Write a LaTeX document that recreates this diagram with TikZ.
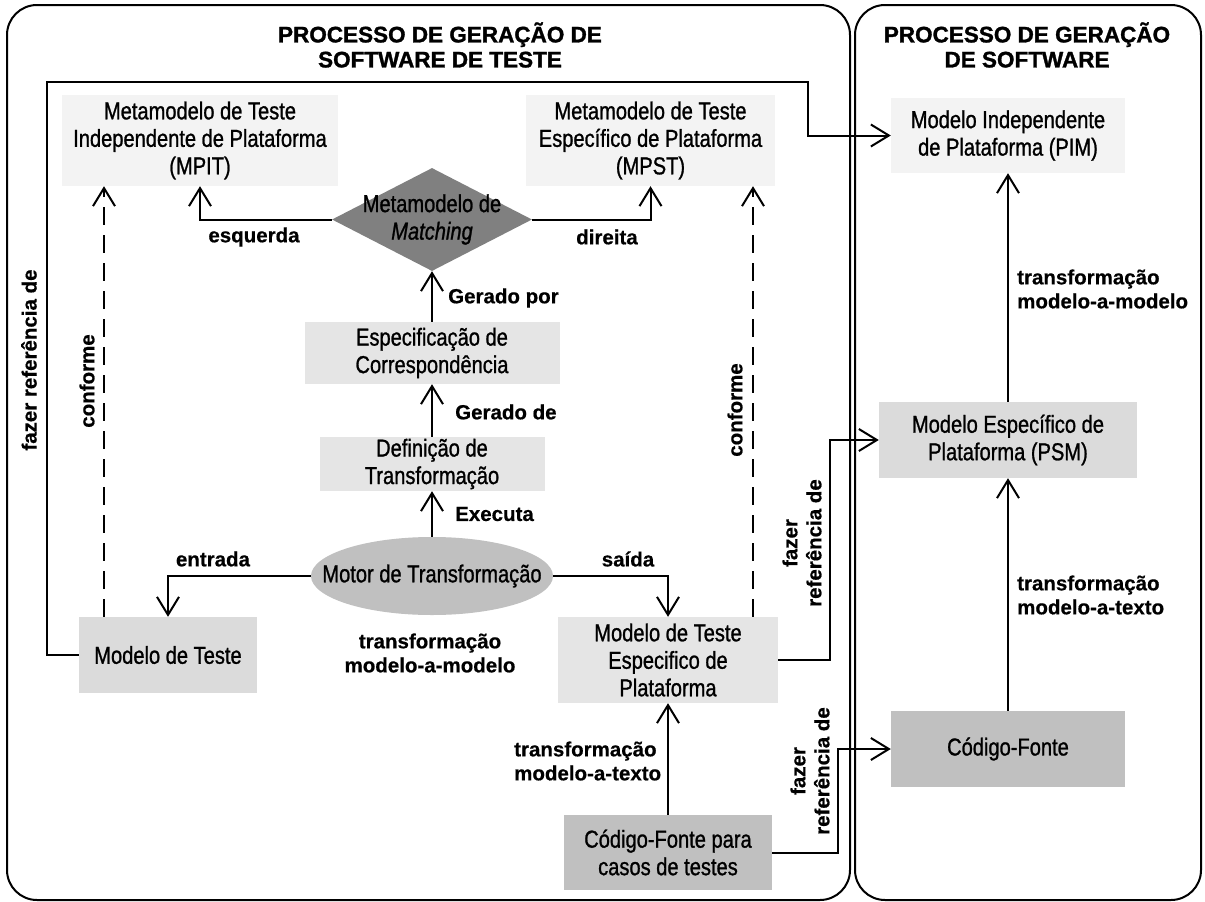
\documentclass[tikz,border=0pt]{standalone}
\usepackage{fontspec}
\setmainfont{Liberation Sans}[BoldFeatures={FakeBold=0.5}]
\newfontfamily\nfont{Liberation Sans}[FakeStretch=0.82, FakeBold=1.0]
\newfontfamily\tfont{Liberation Sans}[UprightFont={* Bold}, FakeBold=1.3]
\usetikzlibrary{arrows.meta,shapes.geometric}
\definecolor{pale}{RGB}{243,243,243}
\definecolor{lgray}{RGB}{229,229,229}
\definecolor{kgray}{RGB}{219,219,219}
\definecolor{mgray}{RGB}{192,192,192}
\definecolor{dgray}{RGB}{128,128,128}
\begin{document}
\begin{tikzpicture}[x=1pt,y=-1pt,
  ntext/.style={font=\nfont\fontsize{24.5}{27.5}\selectfont, align=center, inner sep=0pt},
  box/.style={ntext, rectangle, draw=none},
  lab/.style={font=\bfseries\fontsize{20.5}{24}\selectfont, inner sep=0pt},
  arr/.style={line width=2pt, -{Straight Barb[length=18pt,width=22pt,line width=2pt]}},
  frame/.style={line width=2pt, rounded corners=30pt},
  ttl/.style={font=\tfont\fontsize{22.5}{25}\selectfont, align=center, inner sep=0pt}]
\useasboundingbox (0,0) rectangle (1205,902);
\fill[white] (0,0) rectangle (1205,902);
% frames
\draw[frame] (7,5) rectangle (850,900);
\draw[frame] (855,5) rectangle (1201,900);
\node[ttl] (t1) at (440,45) {PROCESSO DE GERAÇÃO DE\\SOFTWARE DE TESTE};
\node[ttl] (t2) at (1027,45) {PROCESSO DE GERAÇÃO\\DE SOFTWARE};
% boxes
\node[box, fill=pale, minimum width=276pt, minimum height=91pt] (mpit) at (200,140.5) {Metamodelo de Teste\\Independente de Plataforma\\(MPIT)};
\node[box, fill=pale, minimum width=249pt, minimum height=91pt] (mpst) at (650.5,140.5) {Metamodelo de Teste\\Específico de Plataforma\\(MPST)};
\node[box, fill=pale, minimum width=234pt, minimum height=75pt] (pim) at (1008,135.5) {Modelo Independente\\de Plataforma (PIM)};
\node[diamond, fill=dgray, minimum width=200pt, minimum height=103pt, ntext] (match) at (432,219.5) {\makebox[0pt]{Metamodelo de}\\\makebox[0pt]{\itshape Matching}};
\node[box, fill=lgray, minimum width=255pt, minimum height=62pt] (espec) at (432,353) {Especificação de\\Correspondência};
\node[box, fill=lgray, minimum width=225pt, minimum height=54pt] (defin) at (432,464) {Definição de\\Transformação};
\node[ellipse, fill=mgray, minimum width=242pt, minimum height=78pt, ntext] (motor) at (432,576) {\makebox[0pt]{Motor de Transformação}};
\node[box, fill=kgray, minimum width=178pt, minimum height=76pt] (mteste) at (168,655) {Modelo de Teste};
\node[box, fill=lgray, minimum width=220pt, minimum height=86pt] (mtep) at (668,660) {Modelo de Teste\\Especifico de\\Plataforma};
\node[box, fill=mgray, minimum width=208pt, minimum height=75pt] (cfpara) at (668,852.5) {Código-Fonte para\\casos de testes};
\node[box, fill=kgray, minimum width=258pt, minimum height=76pt] (psm) at (1008,440) {Modelo Específico de\\Plataforma (PSM)};
\node[box, fill=mgray, minimum width=234pt, minimum height=76pt] (cf) at (1008,749) {Código-Fonte};
% helper coordinates
\coordinate (loopL) at (47,82);
\coordinate (loopR) at (808,82);
\coordinate (cfL) at (104,0);
\coordinate (cfR) at (753,0);
\coordinate (rf1) at (830,0);
\coordinate (rf2) at (838,0);
% connectors
\draw[arr] (mteste.west) -| (loopL) -- (loopR) |- (pim.west);
\draw[arr] (match.west) -| (mpit.south);
\draw[arr] (match.east) -| (mpst.south);
\draw[arr] (espec.north) -- (match.south);
\draw[arr] (defin.north) -- (espec.south);
\draw[arr] (motor.north) -- (defin.south);
\draw[arr] (motor.west) -| (mteste.north);
\draw[arr] (motor.east) -| (mtep.north);
\draw[arr, dash pattern=on 18pt off 10pt] (mteste.north -| cfL) -- (mpit.south -| cfL);
\draw[arr, dash pattern=on 18pt off 10pt] (mtep.north -| cfR) -- (mpst.south -| cfR);
\draw[arr] (mtep.east) -- (mtep.east -| rf1) |- (psm.west);
\draw[arr] (cfpara.east) -- (cfpara.east -| rf2) |- (cf.west);
\draw[arr] (cfpara.north) -- (mtep.south);
\draw[arr] (psm.north) -- (pim.south);
\draw[arr] (cf.north) -- (psm.south);
% labels
\node[lab] (l1) at (254,237) {esquerda};
\node[lab] (l2) at (607,237) {direita};
\node[lab, anchor=west] (l3) at (448,298) {Gerado por};
\node[lab, anchor=west] (l4) at (455,412) {Gerado de};
\node[lab, anchor=west] (l5) at (455,514) {Executa};
\node[lab] (l6) at (213,559) {entrada};
\node[lab] (l7) at (628,559) {saída};
\node[lab, align=center] (l8) at (430,653) {transformação\\modelo-a-modelo};
\node[lab, rotate=90] (l9) at (29,360) {fazer referência de};
\node[lab, rotate=90] (l10) at (87,381) {conforme};
\node[lab, rotate=90] (l11) at (735,410) {conforme};
\node[lab, rotate=90, align=center] (l12) at (802,543) {fazer\\referência de};
\node[lab, rotate=90, align=center] (l13) at (810,771) {fazer\\referência de};
\node[lab, align=left, anchor=west] (l14) at (514,761) {transformação\\modelo-a-texto};
\node[lab, align=left, anchor=west] (l15) at (1017,289) {transformação\\modelo-a-modelo};
\node[lab, align=left, anchor=west] (l16) at (1017,595) {transformação\\modelo-a-texto};
\end{tikzpicture}
\end{document}
